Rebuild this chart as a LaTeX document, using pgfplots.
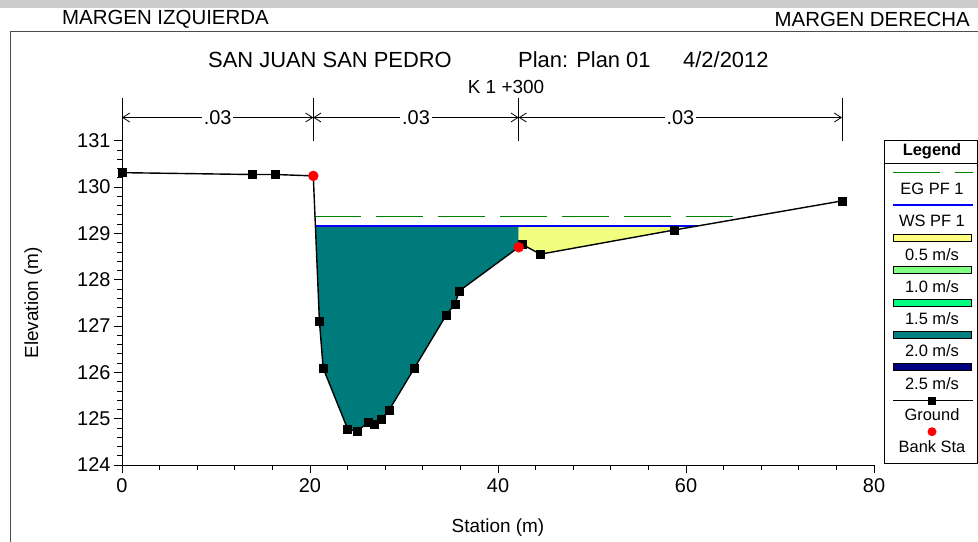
\documentclass[border=0pt]{standalone}
\usepackage{fontspec}
\setmainfont{Liberation Sans}
\usepackage{pgfplots}
\pgfplotsset{compat=1.18}
\usetikzlibrary{arrows.meta}
\definecolor{tealw}{RGB}{0,123,123}
\definecolor{yelw}{RGB}{240,255,128}
\definecolor{lyel}{RGB}{255,255,128}
\definecolor{lgrn}{RGB}{128,255,128}
\definecolor{sgrn}{RGB}{0,255,128}
\definecolor{tealL}{RGB}{0,128,128}
\definecolor{navyL}{RGB}{0,0,128}
\definecolor{egc}{RGB}{0,128,0}
\newcommand{\fs}[1]{\fontsize{#1}{#1}\selectfont}
\begin{document}
\begin{tikzpicture}
\useasboundingbox (0,0) rectangle (978bp,542bp);
\fill[black!20] (0,534bp) rectangle (978bp,542bp);
\draw[black!70, line width=0.8bp] (10bp,-2bp) -- (10bp,511bp) -- (980bp,511bp);
\node[font=\fs{20.5}, anchor=west, inner sep=0pt] at (62bp,523bp) {MARGEN IZQUIERDA};
\node[font=\fs{20.5}, anchor=east, inner sep=0pt] at (970bp,523bp) {MARGEN DERECHA};
\node[font=\fs{22}, anchor=west, inner sep=0pt] at (208bp,482bp) {SAN JUAN SAN PEDRO};
\node[font=\fs{22}, anchor=west, inner sep=0pt] at (518bp,482bp) {Plan: Plan 01};
\node[font=\fs{22}, anchor=west, inner sep=0pt] at (683bp,482bp) {4/2/2012};
\node[font=\fs{19}, inner sep=0pt] at (506bp,455bp) {K 1 +300};
\begin{axis}[
  x=9.4bp, y=46.33bp,
  anchor=south west, at={(122bp,77bp)},
  xmin=0, xmax=80, ymin=124, ymax=131,
  axis lines*=left,
  axis line style={black, line width=0.8bp},
  clip=false,
  xtick={0,20,40,60,80}, ytick={124,125,...,131},
  minor x tick num=4, minor y tick num=4,
  tick align=outside,
  major tick length=8bp, minor tick length=5bp,
  tick style={black, line width=0.7bp},
  /pgf/number format/assume math mode=true,
  tick label style={font=\fs{20}},
  xticklabel style={yshift=-2bp},
  xlabel={Station (m)}, ylabel={Elevation (m)},
  label style={font=\fs{19}},
  xlabel style={at={(axis description cs:0.5,-0.194)}, anchor=center},
  ylabel style={at={(axis description cs:-0.118,0.5)}, anchor=center},
]
% water areas
\addplot[fill=tealw, draw=none] coordinates {(20.57,129.16) (21.0,127.11) (21.4,126.09) (24.0,124.78) (25.0,124.72) (26.2,124.93) (26.8,124.88) (27.6,124.99) (28.4,125.18) (31.1,126.09) (34.5,127.24) (35.4,127.47) (35.9,127.76) (42.2,128.70) (42.2,129.16)} -- cycle;
\addplot[fill=yelw, draw=none] coordinates {(42.2,129.16) (42.2,128.70) (42.6,128.76) (44.5,128.55) (58.7,129.07) (61.26,129.16)} -- cycle;
% EG
\addplot[egc, line width=1.1bp, dash pattern=on 47bp off 15bp] coordinates {(20.4,129.37) (67.1,129.37)};
% WS
\addplot[blue, line width=2.2bp] coordinates {(20.57,129.16) (61.26,129.16)};
% ground line
\addplot[black, line width=1.4bp] coordinates {(0,130.31) (13.8,130.27) (16.3,130.27) (20.35,130.24) (21.0,127.11) (21.4,126.09) (24.0,124.78) (25.0,124.72) (26.2,124.93) (26.8,124.88) (27.6,124.99) (28.4,125.18) (31.1,126.09) (34.5,127.24) (35.4,127.47) (35.9,127.76) (42.6,128.76) (44.5,128.55) (58.7,129.07) (76.6,129.70)};
% ground points
\addplot[only marks, mark=square*, mark size=4bp, black] coordinates {(0,130.31) (13.8,130.27) (16.3,130.27) (21.0,127.11) (21.4,126.09) (24.0,124.78) (25.0,124.72) (26.2,124.93) (26.8,124.88) (27.6,124.99) (28.4,125.18) (31.1,126.09) (34.5,127.24) (35.4,127.47) (35.9,127.76) (42.6,128.76) (44.5,128.55) (58.7,129.07) (76.6,129.70)};
% bank stations
\addplot[only marks, mark=*, mark size=5bp, red, mark options={draw=red, fill=red}] coordinates {(20.35,130.24) (42.2,128.70)};
% Manning's n annotation
\draw[line width=0.8bp] (axis cs:0,131.0) -- (axis cs:0,131.92);
\draw[line width=0.8bp] (axis cs:20.35,131.0) -- (axis cs:20.35,131.92);
\draw[line width=0.8bp] (axis cs:42.2,131.0) -- (axis cs:42.2,131.92);
\draw[line width=0.8bp] (axis cs:76.6,131.0) -- (axis cs:76.6,131.92);
\draw[line width=0.8bp, {Straight Barb[length=7bp,width=9bp]}-{Straight Barb[length=7bp,width=9bp]}] (axis cs:0,131.5) -- node[fill=white, inner sep=2bp, font=\fs{20}] {.03} (axis cs:20.35,131.5);
\draw[line width=0.8bp, {Straight Barb[length=7bp,width=9bp]}-{Straight Barb[length=7bp,width=9bp]}] (axis cs:20.35,131.5) -- node[fill=white, inner sep=2bp, font=\fs{20}] {.03} (axis cs:42.2,131.5);
\draw[line width=0.8bp, {Straight Barb[length=7bp,width=9bp]}-{Straight Barb[length=7bp,width=9bp]}] (axis cs:42.2,131.5) -- node[fill=white, inner sep=2bp, font=\fs{20}] {.03} (axis cs:76.6,131.5);
\end{axis}
% Legend
\draw[black, line width=0.8bp] (884bp,79bp) rectangle (977bp,402bp);
\draw[black, line width=0.8bp] (884bp,379bp) -- (977bp,379bp);
\node[font=\bfseries\fs{16.5}] at (932bp,391bp) {Legend};
\draw[egc, line width=1.1bp, dash pattern=on 47bp off 15bp] (893bp,369.3bp) -- (973bp,369.3bp);
\node[font=\fs{16.5}] at (932bp,353bp) {EG PF 1};
\draw[blue, line width=1.2bp] (893bp,337bp) -- (973bp,337bp);
\node[font=\fs{16.5}] at (932bp,321.3bp) {WS PF 1};
\filldraw[fill=lyel, draw=black, line width=0.6bp] (893.3bp,301bp) rectangle (971bp,308bp);
\node[font=\fs{16.5}] at (932bp,287bp) {0.5 m/s};
\filldraw[fill=lgrn, draw=black, line width=0.6bp] (893.3bp,269bp) rectangle (971bp,276bp);
\node[font=\fs{16.5}] at (932bp,255bp) {1.0 m/s};
\filldraw[fill=sgrn, draw=black, line width=0.6bp] (893.3bp,236bp) rectangle (971bp,243bp);
\node[font=\fs{16.5}] at (932bp,223bp) {1.5 m/s};
\filldraw[fill=tealL, draw=black, line width=0.6bp] (893.3bp,204bp) rectangle (971bp,211bp);
\node[font=\fs{16.5}] at (932bp,191bp) {2.0 m/s};
\filldraw[fill=navyL, draw=black, line width=0.6bp] (893.3bp,172bp) rectangle (971bp,179bp);
\node[font=\fs{16.5}] at (932bp,158bp) {2.5 m/s};
\draw[black, line width=1.2bp] (893bp,141.3bp) -- (973bp,141.3bp);
\fill[black] (928bp,137.3bp) rectangle (936bp,145.3bp);
\node[font=\fs{16.5}] at (932bp,127bp) {Ground};
\fill[red] (932bp,110.3bp) circle (4.5bp);
\node[font=\fs{16.5}] at (932bp,95.3bp) {Bank Sta};
\end{tikzpicture}
\end{document}
